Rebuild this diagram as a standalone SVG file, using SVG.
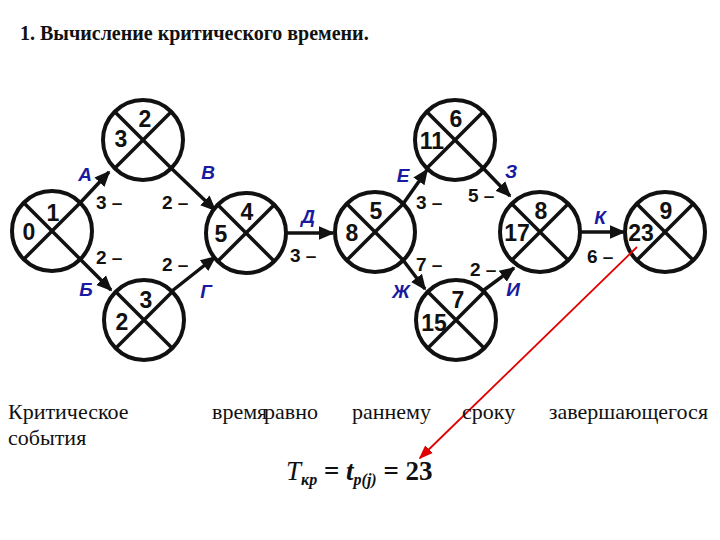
<svg xmlns="http://www.w3.org/2000/svg" width="720" height="540" viewBox="0 0 720 540">
<style>
.n circle{fill:#fff;stroke:#111;stroke-width:4}
.n line{stroke:#111;stroke-width:3.5}
.num{font-family:"Liberation Sans",Arial,sans-serif;font-size:23px;font-weight:bold;fill:#111;text-anchor:middle}
.lb{font-family:"Liberation Sans",Arial,sans-serif;font-size:19px;font-weight:bold;font-style:italic;fill:#1a1aa0;text-anchor:middle}
.d{font-family:"Liberation Sans",Arial,sans-serif;font-size:19px;font-weight:bold;fill:#111}
.e line{stroke:#111;stroke-width:3.5;marker-end:url(#ar)}
.s{font-family:"Liberation Serif","Times New Roman",serif;fill:#111}
</style>
<defs>
<marker id="ar" markerWidth="4.5" markerHeight="4.5" refX="4" refY="2.25" orient="auto" markerUnits="strokeWidth"><path d="M0,0.3 L4.5,2.25 L0,4.2 z" fill="#111"/></marker>
<marker id="rar" markerWidth="8" markerHeight="8" refX="7" refY="4" orient="auto" markerUnits="strokeWidth"><path d="M0,1 L8,4 L0,7 z" fill="#e00000"/></marker>
</defs>
<rect width="720" height="540" fill="#fff"/>
<text class="s" x="20" y="40" font-size="20" font-weight="bold">1. Вычисление критического времени.</text>

<g id="connectors" class="e">
<line x1="80" y1="203" x2="109" y2="172"/>
<line x1="80" y1="259" x2="111" y2="290"/>
<line x1="171" y1="168" x2="215" y2="210"/>
<line x1="172" y1="291" x2="215" y2="257"/>
<line x1="286" y1="233" x2="333" y2="233"/>
<line x1="403" y1="204" x2="427" y2="170"/>
<line x1="403" y1="260" x2="425" y2="289"/>
<line x1="483" y1="168" x2="510" y2="196"/>
<line x1="484" y1="290" x2="514" y2="268"/>
<line x1="580" y1="232" x2="624" y2="232"/>
</g>

<g id="n1" class="n"><circle cx="52" cy="231" r="40"/><line x1="24" y1="203" x2="80" y2="259"/><line x1="80" y1="203" x2="24" y2="259"/><text class="num" x="53" y="221">1</text><text class="num" x="29" y="240">0</text></g>
<g id="n2" class="n"><circle cx="143" cy="140" r="40"/><line x1="115" y1="112" x2="171" y2="168"/><line x1="171" y1="112" x2="115" y2="168"/><text class="num" x="145" y="127">2</text><text class="num" x="121" y="147">3</text></g>
<g id="n3" class="n"><circle cx="144" cy="320" r="40"/><line x1="116" y1="292" x2="172" y2="348"/><line x1="172" y1="292" x2="116" y2="348"/><text class="num" x="146" y="308">3</text><text class="num" x="122" y="330">2</text></g>
<g id="n4" class="n"><circle cx="246" cy="233" r="40"/><line x1="218" y1="205" x2="274" y2="261"/><line x1="274" y1="205" x2="218" y2="261"/><text class="num" x="247" y="220">4</text><text class="num" x="221" y="242">5</text></g>
<g id="n5" class="n"><circle cx="375" cy="232" r="40"/><line x1="347" y1="204" x2="403" y2="260"/><line x1="403" y1="204" x2="347" y2="260"/><text class="num" x="376" y="219">5</text><text class="num" x="352" y="241">8</text></g>
<g id="n6" class="n"><circle cx="455" cy="140" r="40"/><line x1="427" y1="112" x2="483" y2="168"/><line x1="483" y1="112" x2="427" y2="168"/><text class="num" x="456" y="127">6</text><text class="num" x="432" y="149">11</text></g>
<g id="n7" class="n"><circle cx="456" cy="320" r="40"/><line x1="428" y1="292" x2="484" y2="348"/><line x1="484" y1="292" x2="428" y2="348"/><text class="num" x="458" y="308">7</text><text class="num" x="434" y="331">15</text></g>
<g id="n8" class="n"><circle cx="540" cy="232" r="40"/><line x1="512" y1="204" x2="568" y2="260"/><line x1="568" y1="204" x2="512" y2="260"/><text class="num" x="541" y="219">8</text><text class="num" x="517" y="241">17</text></g>
<g id="n9" class="n"><circle cx="665" cy="232" r="40"/><line x1="637" y1="204" x2="693" y2="260"/><line x1="693" y1="204" x2="637" y2="260"/><text class="num" x="666" y="219">9</text><text class="num" x="641" y="241">23</text></g>

<g id="labels">
<text class="lb" x="85" y="181">А</text>
<text class="lb" x="86" y="296">Б</text>
<text class="lb" x="208" y="179">В</text>
<text class="lb" x="206" y="298">Г</text>
<text class="lb" x="308" y="223">Д</text>
<text class="lb" x="403" y="182">Е</text>
<text class="lb" x="401" y="298">Ж</text>
<text class="lb" x="511" y="178">З</text>
<text class="lb" x="513" y="296">И</text>
<text class="lb" x="600" y="224">К</text>
<text class="d" x="96" y="209">3 –</text>
<text class="d" x="162" y="209">2 –</text>
<text class="d" x="96" y="264">2 –</text>
<text class="d" x="162" y="271">2 –</text>
<text class="d" x="290" y="262">3 –</text>
<text class="d" x="416" y="209">3 –</text>
<text class="d" x="468" y="202">5 –</text>
<text class="d" x="416" y="271">7 –</text>
<text class="d" x="470" y="276">2 –</text>
<text class="d" x="587" y="263">6 –</text>
</g>

<line x1="637" y1="247" x2="420" y2="458" stroke="#e00000" stroke-width="1.8" marker-end="url(#rar)"/>

<text class="s" y="419" font-size="22"><tspan x="8">Критическое</tspan><tspan x="212">время</tspan><tspan x="264">равно</tspan><tspan x="352">раннему</tspan><tspan x="462">сроку</tspan><tspan x="708" text-anchor="end">завершающегося</tspan></text>
<text class="s" x="8" y="445" font-size="22">события</text>
<text class="s" x="286" y="480" font-size="27"><tspan font-style="italic">T</tspan><tspan font-size="16" dy="5" font-style="italic" font-weight="bold">кр</tspan><tspan dy="-5" font-weight="bold"> = </tspan><tspan font-style="italic" font-weight="bold">t</tspan><tspan font-size="16" dy="5" font-style="italic" font-weight="bold">р(j)</tspan><tspan dy="-5" font-weight="bold"> = 23</tspan></text>
</svg>
